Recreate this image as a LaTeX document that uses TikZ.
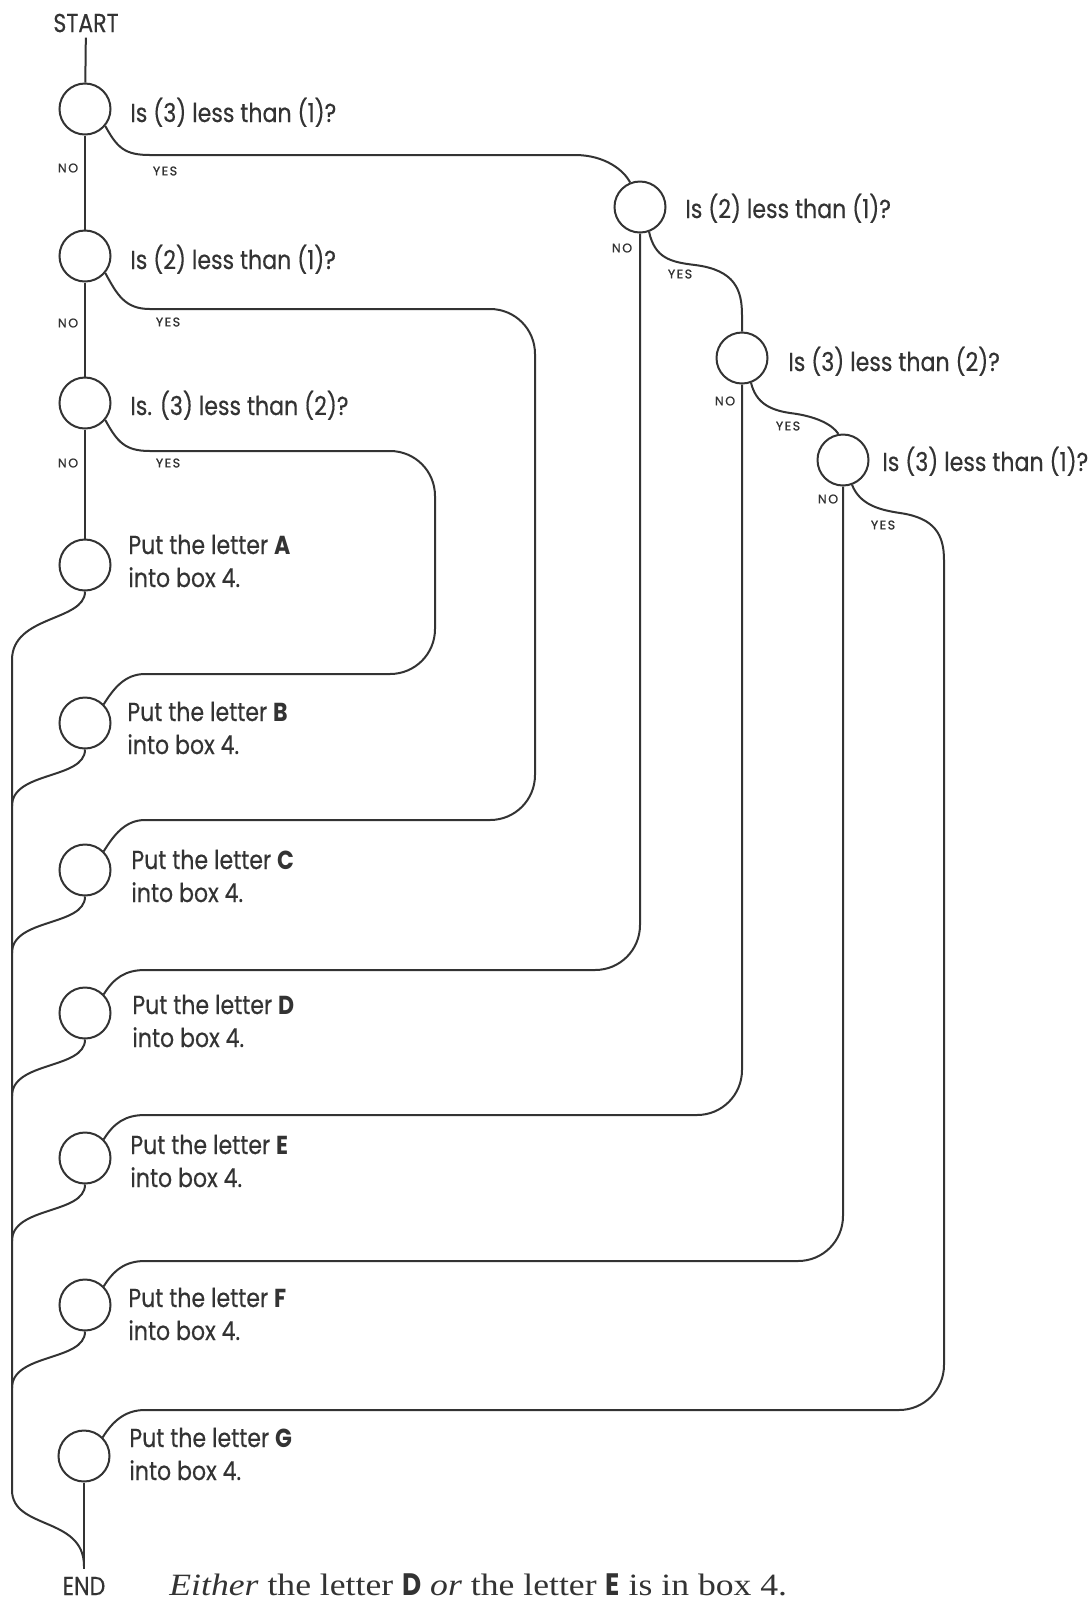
\documentclass[tikz,border=0pt]{standalone}
\usepackage{fontspec}
\newfontfamily\sansf[FakeStretch=0.85,FakeBold=0.4]{Poppins}
\newfontfamily\boldf[FakeStretch=0.85]{Poppins}
\newfontfamily\lblf[LetterSpace=12,FakeBold=1.2]{Poppins}
\newfontfamily\serf[FakeStretch=1.15]{Liberation Serif}
\definecolor{ink}{gray}{0.2}
\begin{document}
\begin{tikzpicture}[x=0.5pt,y=-0.5pt,
  conn/.style={draw=ink,line width=1pt},
  dec/.style={circle,draw=ink,line width=1pt,minimum size=25.5pt,inner sep=0pt},
  qtext/.style={anchor=base west,inner sep=0pt,text=ink,font=\sansf\fontsize{13}{15}\selectfont},
  ptext/.style={anchor=base west,inner sep=0pt,text=ink,align=left,font=\sansf\fontsize{13}{16.5}\selectfont},
  lbl/.style={inner sep=0pt,text=ink,font=\lblf\fontsize{6.3}{7}\selectfont},
  term/.style={text=ink,font=\sansf\fontsize{13}{15}\selectfont}]
\useasboundingbox (0,0) rectangle (1089,1603);
% nodes
\node[term,inner sep=2.5pt] (start) at (86,23) {START};
\node[dec] (q1) at (85,109) {};
\node[dec] (q2) at (85,256) {};
\node[dec] (q3) at (85,403) {};
\node[dec] (pa) at (85,565) {};
\node[dec] (pb) at (85,723) {};
\node[dec] (pc) at (85,870) {};
\node[dec] (pd) at (85,1013) {};
\node[dec] (pe) at (85,1158) {};
\node[dec] (pf) at (85,1305) {};
\node[dec] (pg) at (84,1456) {};
\node[dec] (r1) at (640,207) {};
\node[dec] (r2) at (742,358) {};
\node[dec] (r3) at (843,460) {};
\node[term,inner sep=4pt] (end) at (84,1586) {END};
% question texts
\node[qtext] (t1) at (130,122) {Is (3) less than (1)?};
\node[qtext] (t2) at (130,269) {Is (2) less than (1)?};
\node[qtext] (t3) at (130,415) {Is. (3) less than (2)?};
\node[qtext] (t4) at (685,218) {Is (2) less than (1)?};
\node[qtext] (t5) at (788,371) {Is (3) less than (2)?};
\node[qtext] (t6) at (882,471) {Is (3) less than (1)?};
% put texts (base = last line)
\node[ptext] (ta) at (128,587) {Put the letter {\boldf\bfseries A}\\into box 4.};
\node[ptext] (tb) at (127,754) {Put the letter {\boldf\bfseries B}\\into box 4.};
\node[ptext] (tc) at (131,902) {Put the letter {\boldf\bfseries C}\\into box 4.};
\node[ptext] (td) at (132,1047) {Put the letter {\boldf\bfseries D}\\into box 4.};
\node[ptext] (te) at (130,1187) {Put the letter {\boldf\bfseries E}\\into box 4.};
\node[ptext] (tf) at (128,1340) {Put the letter {\boldf\bfseries F}\\into box 4.};
\node[ptext] (tg) at (129,1480) {Put the letter {\boldf\bfseries G}\\into box 4.};
% labels
\node[lbl] (n1) at (68,168) {NO};
\node[lbl] (y1) at (165,171) {YES};
\node[lbl] (n2) at (68,323) {NO};
\node[lbl] (y2) at (168,322) {YES};
\node[lbl] (n3) at (68,463) {NO};
\node[lbl] (y3) at (168,463) {YES};
\node[lbl] (n4) at (622,248) {NO};
\node[lbl] (y4) at (680,274) {YES};
\node[lbl] (n5) at (725,401) {NO};
\node[lbl] (y5) at (788,426) {YES};
\node[lbl] (n6) at (828,499) {NO};
\node[lbl] (y6) at (883,525) {YES};
% note
\node[anchor=base west,inner sep=0pt,text=ink,font=\serf\fontsize{15.5}{17}\selectfont] (note) at (169,1595)
  {\textit{Either} the letter {\boldf\bfseries D} \textit{or} the letter {\boldf\bfseries E} is in box 4.};
% connectors
\draw[conn] (start) -- (q1);
\draw[conn] (q1) -- (q2);
\draw[conn] (q2) -- (q3);
\draw[conn] (q3) -- (pa);
\draw[conn] (q1.-40) .. controls +(12,22) and +(-25,0) .. (150,155) -- (575,155)
   .. controls +(30,0) and +(-6,-12) .. (r1.112);
\draw[conn] (r1.-70) .. controls (655,258) and (670,262) .. (695,265)
   .. controls (735,270) and (742,290) .. (742,315) -- (r2);
\draw[conn] (r2.-70) .. controls (756,403) and (770,410) .. (790,413)
   .. controls (815,416) and (832,424) .. (r3.100);
% loops to put boxes
\draw[conn] (q3.-40) .. controls +(12,22) and +(-25,0) .. (150,451)
   -- (390,451) .. controls (415,451) and (435,471) .. (435,496)
   -- (435,629) .. controls (435,654) and (415,674) .. (390,674)
   -- (145,674) .. controls +(-20,0) and +(10,-16) .. (pb.45);
\draw[conn] (q2.-40) .. controls +(12,22) and +(-25,0) .. (150,309)
   -- (490,309) .. controls (515,309) and (535,329) .. (535,354)
   -- (535,775) .. controls (535,800) and (515,820) .. (490,820)
   -- (145,820) .. controls +(-20,0) and +(10,-16) .. (pc.45);
\draw[conn] (r1.south) -- (640,925) .. controls (640,950) and (620,970) .. (595,970)
   -- (145,970) .. controls +(-20,0) and +(10,-16) .. (pd.45);
\draw[conn] (r2.south) -- (742,1070) .. controls (742,1095) and (722,1115) .. (697,1115)
   -- (145,1115) .. controls +(-20,0) and +(10,-16) .. (pe.45);
\draw[conn] (r3.south) -- (843,1216) .. controls (843,1241) and (823,1261) .. (798,1261)
   -- (145,1261) .. controls +(-20,0) and +(10,-16) .. (pf.45);
\draw[conn] (r3.-70) .. controls (860,505) and (880,510) .. (900,513)
   .. controls (935,518) and (944,535) .. (944,560)
   -- (944,1365) .. controls (944,1390) and (924,1410) .. (899,1410)
   -- (145,1410) .. controls +(-20,0) and +(10,-16) .. (pg.45);
% main collecting line
\coordinate (ej) at (84,1566);
\draw[conn] (pg) -- (end);
\draw[conn] (pa.south) .. controls +(0,30) and +(0,-45) .. (12,660) -- (12,1490)
   .. controls +(0,40) and +(0,-50) .. (ej);
\draw[conn] (pb.south) .. controls +(0,30) and +(0,-35) .. (12,806);
\draw[conn] (pc.south) .. controls +(0,30) and +(0,-35) .. (12,953);
\draw[conn] (pd.south) .. controls +(0,30) and +(0,-35) .. (12,1096);
\draw[conn] (pe.south) .. controls +(0,30) and +(0,-35) .. (12,1241);
\draw[conn] (pf.south) .. controls +(0,30) and +(0,-35) .. (12,1388);
\end{tikzpicture}
\end{document}
